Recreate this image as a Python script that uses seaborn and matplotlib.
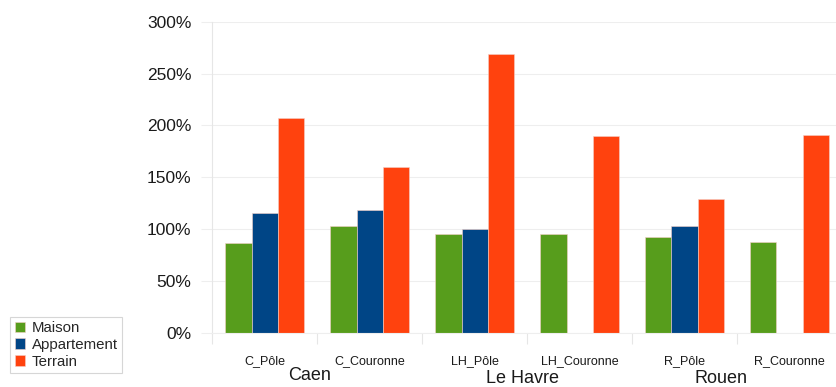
import matplotlib
matplotlib.use("Agg")
import matplotlib.pyplot as plt
from matplotlib.ticker import FuncFormatter, FixedLocator
import seaborn as sns
import pandas as pd
import numpy as np

# Categories and series (values in %)
zones = ["C_Pôle", "C_Couronne", "LH_Pôle", "LH_Couronne", "R_Pôle", "R_Couronne"]
maison = [86.4, 103.4, 95.4, 95.1, 92.5, 87.7]
appartement = [115.3, 118.2, 100.5, np.nan, 103.1, np.nan]
terrain = [206.8, 160.2, 268.5, 190.1, 129.3, 190.5]
series_names = ["Maison", "Appartement", "Terrain"]
villes = ["Caen", "Le Havre", "Rouen"]
y_ticks = [0, 50, 100, 150, 200, 250, 300]

colors = ["#579D1C", "#004586", "#FF420E"]

rows = []
for name, vals in zip(series_names, [maison, appartement, terrain]):
    for z, v in zip(zones, vals):
        if not np.isnan(v):
            rows.append({"zone": z, "type": name, "valeur": v})
df = pd.DataFrame(rows)

sns.set_theme(style="white")
plt.rcParams["font.family"] = ["Liberation Sans", "DejaVu Sans"]

W, H = 836, 387
y0_px, y300_px = 333, 21.6

fig = plt.figure(figsize=(W / 100, H / 100), dpi=100)
ax = fig.add_axes([212.3 / W, 1 - y0_px / H, (842 - 212.3) / W, (y0_px - y300_px) / H])

sns.barplot(data=df, x="zone", y="valeur", hue="type", order=zones,
            hue_order=series_names, palette=colors, width=0.75,
            edgecolor="#f4d0c8", linewidth=0.4, saturation=1, ax=ax)

ax.set_ylim(0, 300)
ax.set_xlim(-0.5, len(zones) - 0.5)
ax.yaxis.set_major_locator(FixedLocator(y_ticks))
ax.yaxis.set_major_formatter(FuncFormatter(lambda v, p: f"{int(v)}%"))
ax.grid(axis="y", color="#eeeeee", linewidth=0.8)
ax.set_axisbelow(True)

for s in ["top", "right"]:
    ax.spines[s].set_visible(False)
ax.spines["left"].set_color("#e6e6e6")
ax.spines["bottom"].set_color("#eeeeee")
ax.spines["left"].set_linewidth(0.8)
ax.spines["bottom"].set_linewidth(0.8)

ax.tick_params(axis="y", which="major", length=8, width=0.8, color="#eeeeee",
               labelsize=12.5, labelcolor="#1a1a1a", pad=7, left=True)
ax.tick_params(axis="x", which="major", length=0, labelsize=9, pad=16,
               labelcolor="#1a1a1a")
ax.set_xticks(range(len(zones)))
ax.set_xticklabels(zones)
ax.set_xticks(np.arange(-0.5, len(zones), 1.0), minor=True)
ax.tick_params(axis="x", which="minor", length=8, width=0.8, color="#e6e6e6",
               bottom=True)
ax.set_xlabel("")
ax.set_ylabel("")

# City names under each pair of zones (baseline in pixels from top)
for ville, xpos, base_px in zip(villes, [0.43, 2.46, 4.345], [380, 383, 383]):
    ax.text(xpos, -(base_px - y0_px) / (y0_px - y300_px), ville,
            transform=ax.get_xaxis_transform(), fontsize=13,
            ha="center", va="baseline", color="#1a1a1a")

leg = ax.legend(loc="lower left", bbox_to_anchor=(10 / W, 1 - 373 / H),
                bbox_transform=fig.transFigure, fontsize=10.8, frameon=True,
                fancybox=False, edgecolor="#cccccc", handlelength=0.7,
                handleheight=0.7, handletextpad=0.45, borderpad=0.3,
                labelspacing=0.18, borderaxespad=0)
leg.get_frame().set_linewidth(0.8)

fig.savefig("out.png", dpi=100, facecolor="white")
